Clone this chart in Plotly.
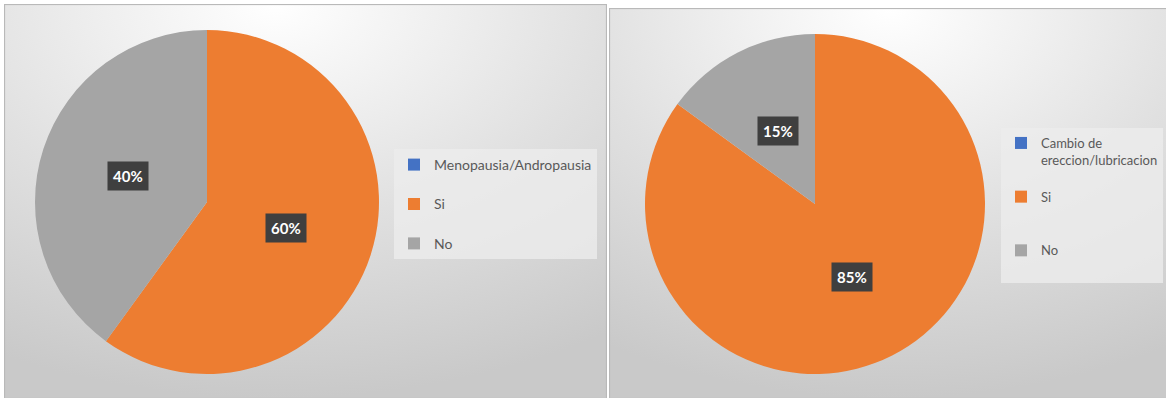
import base64
import math
import plotly.graph_objects as go

W, H = 1166, 398

# ---- data ----
left_labels = ["Menopausia/Andropausia", "Si", "No"]
left_values = [0, 60, 40]
right_labels = ["Cambio de<br>ereccion/lubricacion", "Si", "No"]
right_values = [0, 85, 15]
slice_colors = ["#4472C4", "#ED7D31", "#A5A5A5"]

# ---- layout geometry (pixels) ----
left_panel = (4, 4, 607, 398)     # x0, y0, x1, y1
right_panel = (609, 8, 1170, 398)
left_pie = (207, 202, 172)        # cx, cy, r
right_pie = (815, 204, 170)

# total text lines per legend entry (extra blank lines spread the entries out)
left_entry_lines = [2, 2, 1]
right_entry_lines = [3, 3, 2]


def padded(labels, lines):
    out = []
    for lab, n in zip(labels, lines):
        used = lab.count("<br>") + 1
        out.append(lab + "<br>\u00a0" * max(0, n - used))
    return out


def gradient_panel(w, h, cx="45%"):
    svg = (
        f'<svg xmlns="http://www.w3.org/2000/svg" width="{w}" height="{h}" '
        f'viewBox="0 0 {w} {h}" preserveAspectRatio="none">'
        f'<defs><radialGradient id="g" cx="{cx}" cy="0%" r="100%" fx="{cx}" fy="0%">'
        '<stop offset="0" stop-color="#ffffff"/>'
        '<stop offset="0.55" stop-color="#e0e0e0"/>'
        '<stop offset="1" stop-color="#c9c9c9"/>'
        '</radialGradient></defs>'
        f'<rect x="0" y="0" width="{w}" height="{h}" fill="url(#g)"/>'
        f'<rect x="0.5" y="0.5" width="{w-1}" height="{h}" fill="none" stroke="#b9b9b9" stroke-width="1.2"/>'
        '</svg>'
    )
    return "data:image/svg+xml;base64," + base64.b64encode(svg.encode()).decode()


def panel_image(panel, cx):
    x0, y0, x1, y1 = panel
    return dict(
        source=gradient_panel(x1 - x0, y1 - y0, cx),
        xref="paper", yref="paper",
        x=x0 / W, y=1 - y0 / H,
        sizex=(x1 - x0) / W, sizey=(y1 - y0) / H,
        xanchor="left", yanchor="top",
        sizing="stretch", layer="below",
    )


def pie_domain(pie):
    cx, cy, r = pie
    return dict(x=[(cx - r) / W, (cx + r) / W],
                y=[1 - (cy + r) / H, 1 - (cy - r) / H])


def value_labels(values, pie):
    """Dark boxed percentage labels placed halfway along each slice's bisector."""
    cx, cy, r = pie
    total = sum(values)
    notes = []
    start = 0.0
    for v in values:
        frac = v / total
        if v > 0:
            mid = (start + frac / 2) * 2 * math.pi  # clockwise from 12 o'clock
            px = cx + 0.48 * r * math.sin(mid)
            py = cy - 0.48 * r * math.cos(mid)
            notes.append(dict(
                x=px / W, y=1 - py / H, xref="paper", yref="paper",
                xanchor="center", yanchor="middle",
                text=f"<b>{round(frac * 100)}%</b>", showarrow=False,
                font=dict(family="Lato, Open Sans, sans-serif", size=15, color="white"),
                bgcolor="#3f3f3f", borderpad=5,
            ))
        start += frac
    return notes


fig = go.Figure()
fig.add_trace(go.Pie(
    labels=padded(left_labels, left_entry_lines), values=left_values,
    sort=False, direction="clockwise", rotation=0,
    marker=dict(colors=slice_colors, line=dict(width=0)),
    textinfo="none", domain=pie_domain(left_pie), legend="legend",
    hoverinfo="percent",
))
fig.add_trace(go.Pie(
    labels=padded(right_labels, right_entry_lines), values=right_values,
    sort=False, direction="clockwise", rotation=0,
    marker=dict(colors=slice_colors, line=dict(width=0)),
    textinfo="none", domain=pie_domain(right_pie), legend="legend2",
    hoverinfo="percent",
))

fig.update_layout(
    width=W, height=H,
    margin=dict(l=0, r=0, t=0, b=0),
    paper_bgcolor="white",
    images=[panel_image(left_panel, "45%"), panel_image(right_panel, "50%")],
    annotations=value_labels(left_values, left_pie) + value_labels(right_values, right_pie),
    legend=dict(x=394 / W, y=1 - 149 / H, xanchor="left", yanchor="top",
                valign="top", bgcolor="rgba(236,236,236,0.8)",
                font=dict(family="Lato, Open Sans, sans-serif", size=14, color="#595959")),
    legend2=dict(x=1001 / W, y=1 - 128 / H, xanchor="left", yanchor="top",
                 valign="top", bgcolor="rgba(236,236,236,0.8)",
                 font=dict(family="Lato, Open Sans, sans-serif", size=13, color="#595959")),
)

fig.write_html("out.html")
